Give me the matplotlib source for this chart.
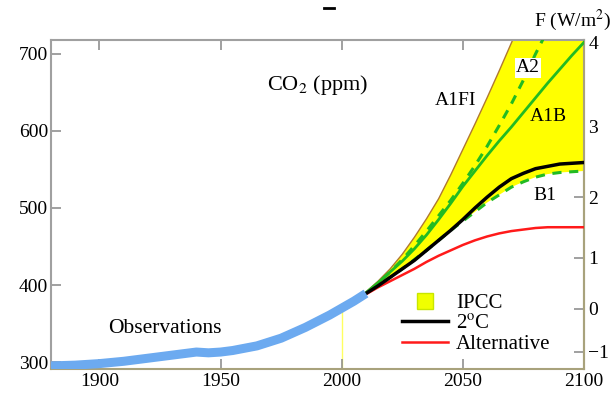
import numpy as np
import matplotlib
matplotlib.use("Agg")
from matplotlib import pyplot as plt
from matplotlib.lines import Line2D

plt.rcParams["font.family"] = ["Liberation Serif", "DejaVu Serif"]
plt.rcParams["mathtext.fontset"] = "stix"

# observed CO2 (ppm)
obs_years = [1880, 1890, 1900, 1910, 1920, 1930, 1940, 1945, 1950, 1955, 1960,
             1965, 1970, 1975, 1980, 1985, 1990, 1995, 2000, 2005, 2010]
obs_co2 = [295, 296, 298, 301, 305, 309, 313, 312, 313, 315, 318,
           321, 326, 331, 338, 345, 353, 361, 370, 379, 389]

# scenario CO2 (ppm), every 5 years from 2000
scen_years = list(range(2000, 2101, 5))
a1fi = [370, 380, 391, 405, 421, 440, 462, 486, 512, 543, 576,
        609, 643, 678, 714, 750, 787, 824, 861, 898, 936]
a2 = [370, 379, 389, 402, 417, 433, 451, 470, 490, 510, 532,
      555, 580, 607, 635, 666, 700, 731, 763, 799, 836]
a1b = [370, 380, 390, 403, 417, 431, 447, 465, 485, 506, 528,
       548, 568, 587, 605, 624, 643, 662, 680, 698, 715]
b1 = [370, 379, 389, 399, 410, 421, 433, 445, 458, 471, 483,
      495, 507, 517, 527, 534, 540, 544, 546, 547, 548]
two_deg = [370, 379, 389, 399, 410, 421, 432, 445, 458, 471, 485,
           500, 514, 527, 538, 545, 551, 554, 557, 558, 559]
alternative = [370, 379, 388, 397, 405, 413, 421, 430, 438, 445, 452,
               458, 463, 467, 470, 472, 474, 475, 475, 475, 475]

forcing_ticks = [-1, 0, 1, 2, 3, 4]


def to_forcing(c):
    c = np.clip(np.asarray(c, dtype=float), 1.0, None)
    return 6.06 * np.log(c / 369.3)


def to_co2(f):
    return 369.3 * np.exp(np.asarray(f, dtype=float) / 6.06)


fig = plt.figure(figsize=(6.13, 3.95), dpi=100)
ax = fig.add_axes([51 / 613, 26 / 395, 533 / 613, 329 / 395])

green = "#22bb22"

ax.fill_between(scen_years, b1, a1fi, color="#ffff00", lw=0, zorder=1)
ax.plot(scen_years, a1fi, color="#b07830", lw=1.0, zorder=2)
ax.plot([2000, 2000], [290, 370], color="#ffff60", lw=1.0, zorder=1)
ax.plot(scen_years, a2, color=green, lw=2.2, ls=(0, (3, 2.5)), zorder=3)
ax.plot(scen_years, a1b, color=green, lw=2.0, zorder=3)
ax.plot(scen_years, b1, color=green, lw=2.2, ls=(0, (3, 2.5)), zorder=3)
ax.plot(scen_years, alternative, color="#ff1a1a", lw=1.8, zorder=4)
ax.plot(scen_years, two_deg, color="black", lw=2.5, zorder=4)
ax.plot(obs_years, obs_co2, color="#6caaf0", lw=6.5, solid_capstyle="butt", zorder=5)

ax.set_xlim(1880, 2100)
ax.set_ylim(291, 718)
ax.set_xticks([1900, 1950, 2000, 2050, 2100])
ax.set_yticks([300, 400, 500, 600, 700])
ax.tick_params(axis="both", direction="in", length=7, width=1.2,
               color="#909090", labelsize=14, top=True, right=False)
ax.tick_params(axis="x", pad=3)
ax.tick_params(axis="y", pad=2)
for side in ["left", "top"]:
    ax.spines[side].set_color("#a0a0a0")
for side in ["bottom", "right"]:
    ax.spines[side].set_color("#a8a27c")
for s in ax.spines.values():
    s.set_linewidth(1.5)

sec = ax.secondary_yaxis("right", functions=(to_forcing, to_co2))
sec.set_yticks(forcing_ticks)
sec.set_yticklabels(["\u22121", "0", "1", "2", "3", "4"])
sec.tick_params(direction="in", length=7, width=1.2, color="#909090",
                labelsize=14, pad=3)
sec.spines["right"].set_color("#a8a27c")
sec.spines["right"].set_linewidth(1.5)

ax.text(1990.2, 660, "CO$_2$ (ppm)", fontsize=16, ha="center", va="center")
ax.text(1927, 344, "Observations", fontsize=15.5, ha="center", va="center")
ax.text(2046.8, 640, "A1FI", fontsize=14, ha="center", va="center")
ax.text(2076.9, 682, "A2", fontsize=14, ha="center", va="center", zorder=6,
        bbox=dict(facecolor="white", edgecolor="none", pad=1))
ax.text(2085.1, 619, "A1B", fontsize=14, ha="center", va="center")
ax.text(2083.9, 516, "B1", fontsize=14, ha="center", va="center")
fig.text(572 / 613, 1 - 20 / 395, "F (W/m$^2$)", fontsize=14,
         ha="center", va="center")

# small mark above the plot
fig.add_artist(Line2D([324 / 613, 334 / 613], [1 - 8 / 395, 1 - 8 / 395],
                      color="black", lw=2))

handles = [
    Line2D([], [], ls="none", marker="s", markersize=11,
           markerfacecolor="#f0ff00", markeredgecolor="#c8e600"),
    Line2D([], [], color="black", lw=2.5),
    Line2D([], [], color="#ff1a1a", lw=1.8),
]
ax.legend(handles, ["IPCC", "2$^{\\rm o}$C", "Alternative"],
          loc="lower right", bbox_to_anchor=(0.965, 0.0), frameon=False,
          fontsize=15, handlelength=2.2, handletextpad=0.4,
          labelspacing=0.05, borderaxespad=0.3)

fig.savefig("out.png", dpi=100)
